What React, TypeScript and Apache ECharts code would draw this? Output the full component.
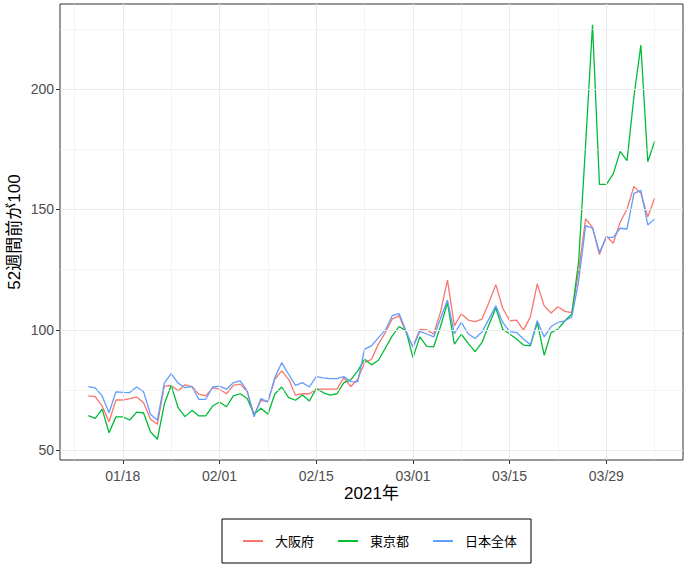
import React, { useEffect, useRef } from "react";
import * as echarts from "echarts";

const START_DATE = "2021-01-13";
const DAY = 86400000;

const osaka = [
  72.6, 72.3, 68.4, 61.9, 70.9, 70.9, 71.5, 72.2, 69.8, 62.9, 60.8, 76.7, 76.9, 74.7, 77.2,
  76.5, 73.3, 72.6, 76.0, 75.4, 73.5, 77.0, 77.5, 74.4, 64.7, 70.8, 70.2, 79.5, 83.0, 79.5,
  72.9, 73.5, 73.5, 75.4, 75.4, 75.4, 75.4, 80.2, 76.5, 79.5, 86.4, 87.8, 94.1, 98.9, 104.5,
  105.9, 98.9, 93.0, 100.2, 100.0, 98.3, 107.5, 120.7, 101.7, 106.7, 104.1, 103.4, 104.5, 111.4, 118.8,
  109.0, 103.8, 104.1, 99.9, 105.4, 119.1, 110.0, 107.0, 109.6, 107.7, 107.2, 124.6, 146.1, 142.6, 131.3,
  139.0, 136.0, 144.7, 150.2, 159.6, 156.7, 147.0, 154.8,
];

const tokyo = [
  64.4, 63.3, 67.1, 57.3, 63.9, 63.9, 62.6, 65.9, 65.5, 57.7, 54.6, 69.1, 77.0, 67.7, 64.0,
  66.6, 64.3, 64.3, 68.4, 70.1, 68.1, 72.6, 73.5, 71.5, 65.0, 67.5, 65.0, 73.4, 76.3, 71.9,
  70.8, 73.0, 70.5, 75.6, 74.0, 72.9, 73.5, 78.1, 79.3, 83.0, 87.8, 85.5, 87.4, 92.4, 97.5,
  101.4, 99.6, 88.5, 97.1, 93.2, 93.0, 101.5, 111.2, 94.1, 98.2, 94.4, 91.0, 94.8, 102.1, 109.1,
  100.3, 98.3, 96.2, 93.7, 93.4, 103.1, 89.5, 98.9, 100.3, 103.8, 106.6, 128.7, 177.0, 226.7, 160.4,
  160.4, 164.8, 174.1, 170.3, 197.0, 218.2, 169.8, 178.3,
];

const japan = [
  76.5, 75.9, 72.6, 65.6, 74.3, 74.1, 74.0, 76.3, 74.3, 65.0, 62.5, 77.9, 81.9, 77.9, 76.0,
  76.5, 71.2, 71.2, 76.3, 76.7, 75.4, 78.1, 78.8, 74.7, 63.9, 71.5, 70.1, 80.2, 86.4, 81.6,
  77.0, 78.1, 76.3, 80.6, 80.1, 79.8, 79.8, 80.6, 78.5, 78.4, 92.0, 93.4, 96.8, 99.9, 105.9,
  106.8, 99.6, 92.8, 99.4, 98.3, 97.1, 104.8, 112.4, 98.4, 103.1, 98.4, 96.4, 99.2, 104.5, 110.0,
  103.1, 99.3, 98.9, 96.2, 93.8, 103.8, 97.1, 101.4, 103.1, 103.8, 105.4, 120.4, 143.3, 142.3, 132.2,
  138.4, 138.4, 142.2, 141.9, 156.7, 157.9, 143.6, 146.1,
];

const seriesNames = ["大阪府", "東京都", "日本全体"];
const seriesColors = ["#F8766D", "#00BA38", "#619CFF"];

const xTickLabels = ["2021-01-18", "2021-02-01", "2021-02-15", "2021-03-01", "2021-03-15", "2021-03-29"];
const xMinorDates = ["2021-01-11", "2021-01-25", "2021-02-08", "2021-02-22", "2021-03-08", "2021-03-22", "2021-04-05"];
const yTicks = [50, 100, 150, 200];
const yMinor = [75, 125, 175, 225];

const xTitle = "2021年";
const yTitle = "52週間前が100";

const toMs = (s: string) => {
  const [y, m, d] = s.split("-").map(Number);
  return Date.UTC(y, m - 1, d);
};

const startMs = toMs(START_DATE);
const dates = osaka.map((_, i) => startMs + i * DAY);

const FONT = "'Liberation Sans', Arial, 'Noto Sans CJK JP', sans-serif";

export default function App() {
  const ref = useRef<HTMLDivElement>(null);
  useEffect(() => {
    if (!ref.current) return;
    const chart = echarts.init(ref.current, undefined, { renderer: "svg" });
    const span = dates[dates.length - 1] - dates[0];
    const xMin = dates[0] - span * 0.05;
    const xMax = dates[dates.length - 1] + span * 0.05;
    const all = [...osaka, ...tokyo, ...japan];
    const lo = Math.min(...all);
    const hi = Math.max(...all);
    const yMin = lo - (hi - lo) * 0.05;
    const yMax = hi + (hi - lo) * 0.05;

    const xTickVals = xTickLabels.map(toMs);
    const gridLine = (w: number) => ({ color: "#EBEBEB", width: w, type: "solid" as const });
    const markLineData = [
      ...xTickVals.map((v) => ({ xAxis: v, lineStyle: gridLine(1.07) })),
      ...xMinorDates.map((d) => ({ xAxis: toMs(d), lineStyle: gridLine(0.53) })),
      ...yTicks.map((v) => ({ yAxis: v, lineStyle: gridLine(1.07) })),
      ...yMinor.map((v) => ({ yAxis: v, lineStyle: gridLine(0.53) })),
    ];

    const values = [osaka, tokyo, japan];
    const fmt = (v: number) => {
      const d = new Date(v);
      const mm = String(d.getUTCMonth() + 1).padStart(2, "0");
      const dd = String(d.getUTCDate()).padStart(2, "0");
      return `${mm}/${dd}`;
    };

    chart.setOption({
      animation: false,
      backgroundColor: "#FFFFFF",
      grid: {
        left: 60,
        top: 4,
        right: 5,
        bottom: 110,
        show: true,
        borderColor: "#333333",
        borderWidth: 1,
        backgroundColor: "transparent",
      },
      xAxis: {
        type: "value",
        min: xMin,
        max: xMax,
        scale: true,
        axisLine: { show: false },
        splitLine: { show: false },
        axisTick: {
          show: true,
          customValues: xTickVals,
          length: 4,
          lineStyle: { color: "#333333", width: 1 },
        },
        axisLabel: {
          customValues: xTickVals,
          formatter: (v: number) => fmt(v),
          color: "#4D4D4D",
          fontSize: 14,
          fontFamily: FONT,
          margin: 9,
        },
      },
      yAxis: {
        type: "value",
        min: yMin,
        max: yMax,
        scale: true,
        axisLine: { show: false },
        splitLine: { show: false },
        axisTick: {
          show: true,
          customValues: yTicks,
          length: 4,
          lineStyle: { color: "#333333", width: 1 },
        },
        axisLabel: {
          customValues: yTicks,
          color: "#4D4D4D",
          fontSize: 14,
          fontFamily: FONT,
          margin: 6,
        },
      },
      legend: {
        data: seriesNames,
        left: 222,
        top: 519,
        orient: "horizontal",
        padding: [15, 14, 15, 21],
        itemGap: 24,
        itemWidth: 20,
        itemHeight: 2,
        icon: "rect",
        borderColor: "#000000",
        borderWidth: 1,
        textStyle: {
          color: "#000000",
          fontSize: 13,
          fontFamily: FONT,
          lineHeight: 14,
          padding: [0, 0, 0, 7],
        },
      },
      graphic: [
        {
          type: "text",
          x: 371.5,
          y: 493,
          style: {
            text: xTitle,
            fontSize: 17,
            fontFamily: FONT,
            fill: "#000000",
            align: "center",
            verticalAlign: "middle",
          },
        },
        {
          type: "text",
          x: 14,
          y: 232,
          rotation: Math.PI / 2,
          style: {
            text: yTitle,
            fontSize: 17,
            fontFamily: FONT,
            fill: "#000000",
            align: "center",
            verticalAlign: "middle",
          },
        },
      ],
      series: [
        {
          name: "grid",
          type: "line",
          data: dates.map((d, i) => [d, osaka[i]]),
          showSymbol: false,
          silent: true,
          lineStyle: { opacity: 0 },
          z: 1,
          markLine: {
            silent: true,
            symbol: ["none", "none"],
            label: { show: false },
            data: markLineData,
            animation: false,
          },
        },
        ...seriesNames.map((name, k) => ({
          name,
          type: "line",
          data: dates.map((d, i) => [d, values[k][i]]),
          showSymbol: false,
          color: seriesColors[k],
          lineStyle: { color: seriesColors[k], width: 1.3 },
          itemStyle: { color: seriesColors[k] },
          z: 3,
        })),
      ],
    });
    return () => chart.dispose();
  }, []);
  return (
    <div
      ref={ref}
      style={{ position: "absolute", left: 0, top: 0, width: 688, height: 570, background: "#fff" }}
    />
  );
}
